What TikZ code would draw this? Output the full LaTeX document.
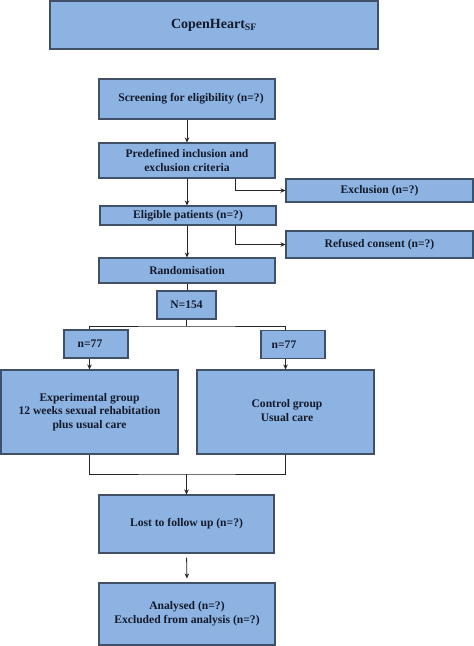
\documentclass[tikz,border=0pt]{standalone}
\usepackage{fontspec}
\setmainfont{Liberation Serif}
\usetikzlibrary{arrows.meta}
\definecolor{boxfill}{HTML}{8DB3E2}
\definecolor{boxline}{HTML}{3F5068}
\definecolor{txt}{HTML}{141A2B}
\tikzset{
  box/.style={draw=boxline, fill=boxfill, line width=1.1pt, inner sep=0pt, align=center,
    text=txt, font=\bfseries\fontsize{11.6}{13.6}\selectfont},
  conn/.style={draw=black!85, line width=0.8pt},
  arr/.style={conn, -{Stealth[length=5pt,width=4.5pt]}}
}
\begin{document}
\begin{tikzpicture}[x=1pt,y=1pt]
\useasboundingbox (0,0) rectangle (474,-646);
% nodes
\node[box, minimum width=328, minimum height=48, font=\bfseries\fontsize{14}{16}\selectfont] (top) at (214,-25) {CopenHeart\textsubscript{SF}};
\node[box, minimum width=176, minimum height=40] (screen) at (187,-99) {\hspace*{8pt}Screening for eligibility (n=?)};
\node[box, minimum width=176, minimum height=35] (pre) at (187,-160.5) {Predefined inclusion and\\exclusion criteria};
\node[box, minimum width=187, minimum height=23] (excl) at (379.5,-190.5) {Exclusion (n=?)};
\node[box, minimum width=176, minimum height=19] (elig) at (188,-215.5) {Eligible patients (n=?)};
\node[box, minimum width=187, minimum height=27] (refused) at (379.5,-244.5) {Refused consent (n=?)};
\node[box, minimum width=176, minimum height=25] (rand) at (187,-270.5) {Randomisation};
\node[box, minimum width=59, minimum height=28] (N) at (186.5,-305) {N=154};
\node[box, minimum width=64, minimum height=28] (nL) at (96,-344) {\hspace*{-12pt}n=77};
\node[box, minimum width=64, minimum height=28] (nR) at (293,-344.5) {\hspace*{-18pt}n=77};
\node[box, minimum width=177, minimum height=84] (exp) at (89.5,-412) {\raisebox{2pt}{\begin{tabular}{@{}c@{}}Experimental group\\12 weeks sexual rehabitation\\plus usual care\end{tabular}}};
\node[box, minimum width=177, minimum height=84] (ctrl) at (285.5,-412) {\raisebox{3pt}{\begin{tabular}{@{}c@{}}\hspace*{3pt}Control group\\\hspace*{3pt}Usual care\end{tabular}}};
\node[box, minimum width=175, minimum height=58] (lost) at (186.5,-524) {\raisebox{3pt}{Lost to follow up (n=?)}};
\node[box, minimum width=176, minimum height=62] (anal) at (187,-614) {Analysed (n=?)\\Excluded from analysis (n=?)};
% connectors
\draw[arr] (screen.south) -- (pre.north);
\draw[arr] ([xshift=48pt]pre.south) |- (excl.west);
\draw[arr] (pre.south) -- (elig.north -| pre.south);
\draw[arr] ([xshift=47pt]elig.south) |- (refused.west);
\draw[arr] (elig.south -| rand.north) -- (rand.north);
\draw[conn] (rand.south) -- (N.north -| rand.south);
\coordinate (split) at (186.5,-326);
\draw[conn] (N.south) -- (split);
\draw[conn] (nL.north -| exp.north) |- (split) -| (nR.north -| ctrl.north);
\draw[arr] (nL.south -| exp.north) -- (exp.north);
\draw[arr] (nR.south -| ctrl.north) -- (ctrl.north);
\coordinate (merge) at (186.5,-474);
\draw[conn] (exp.south) |- (merge) -| (ctrl.south);
\draw[arr] (merge) -- (lost.north);
\draw[arr, shorten <=4pt, shorten >=4pt] (lost.south) -- (anal.north);
\end{tikzpicture}
\end{document}
